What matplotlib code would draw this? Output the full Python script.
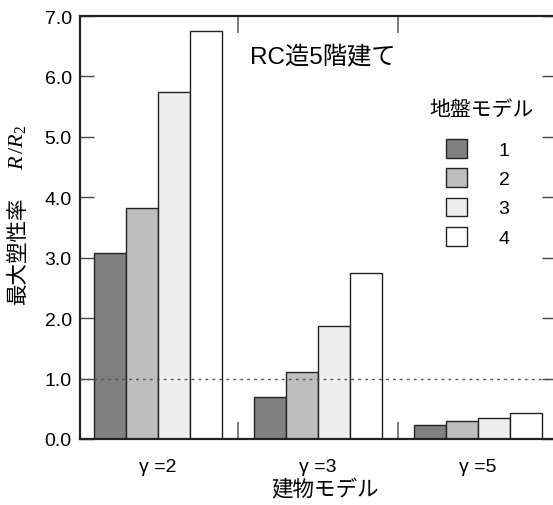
import matplotlib
matplotlib.use("Agg")
import matplotlib.pyplot as plt
import numpy as np

# ── Data ────────────────────────────────────────────────
building_models = ["γ =2", "γ =3", "γ =5"]
ground_models = ["1", "2", "3", "4"]
ratio_g1 = [3.07, 0.70, 0.23]
ratio_g2 = [3.83, 1.11, 0.30]
ratio_g3 = [5.74, 1.87, 0.35]
ratio_g4 = [6.75, 2.74, 0.43]
series = [ratio_g1, ratio_g2, ratio_g3, ratio_g4]
bar_colors = ["#808080", "#bebebe", "#eeeeee", "#ffffff"]

FONTS = ["Liberation Sans", "Noto Sans CJK JP"]
plt.rcParams["font.family"] = FONTS
plt.rcParams["mathtext.fontset"] = "custom"
plt.rcParams["mathtext.rm"] = "Liberation Serif"
plt.rcParams["mathtext.it"] = "Liberation Serif:italic"

W, H = 553, 506
fig = plt.figure(figsize=(W / 100, H / 100), dpi=100)
ax = fig.add_axes([80 / W, 1 - 440 / H, 476 / W, 423 / H])

x = np.arange(len(building_models))
width = 0.2
bars = []
for i, vals in enumerate(series):
    b = ax.bar(x + (i - 1.5) * width, vals, width, color=bar_colors[i],
               edgecolor="#222222", linewidth=1.0, label=ground_models[i], zorder=2)
    bars.append(b)

ax.axhline(1.0, color="#555555", linestyle=(0, (2, 3)), linewidth=1.0, zorder=3)

ax.set_xlim(-0.4875, 2.4875)
ax.set_ylim(0, 7)
ax.set_yticks(np.arange(0, 7.1, 1.0))
ax.set_yticklabels([f"{v:.1f}" for v in np.arange(0, 7.1, 1.0)], fontsize=14)

ax.set_xticks([0.5, 1.5])
ax.set_xticklabels([])
ax.set_xticks(x, minor=True)
ax.set_xticklabels(building_models, minor=True, fontsize=14)
ax.tick_params(axis="x", which="minor", length=0, pad=14)
ax.tick_params(axis="x", which="major", direction="in", length=12, width=1.2,
               color="#666666", top=True)
ax.tick_params(axis="y", direction="in", length=10, width=1.0, color="#444444",
               right=True, pad=6)

for s in ax.spines.values():
    s.set_linewidth(1.6)
    s.set_color("#222222")

# Axis labels
fig.text(18 / W, 1 - 250 / H, "最大塑性率", rotation=90, ha="center", va="center",
         fontsize=15.5)
fig.text(18 / W, 1 - 147 / H, "$R\\,/R_{\\mathrm{2}}$", rotation=90, ha="center",
         va="center", fontsize=16)
fig.text(325 / W, 1 - 491 / H, "建物モデル", ha="center", va="center", fontsize=15.5)

# Annotations
fig.text(323 / W, 1 - 58 / H, "RC造5階建て", ha="center", va="center", fontsize=17.5)
fig.text(482 / W, 1 - 110 / H, "地盤モデル", ha="center", va="center", fontsize=15)

ax.legend(handles=bars, loc="upper left", bbox_to_anchor=(446 / W, 1 - 140 / H),
          bbox_transform=fig.transFigure, frameon=False, fontsize=14,
          handlelength=1.1, handleheight=1.1, handletextpad=1.6,
          labelspacing=0.48, borderpad=0, borderaxespad=0)

fig.savefig("out.png", dpi=100)
